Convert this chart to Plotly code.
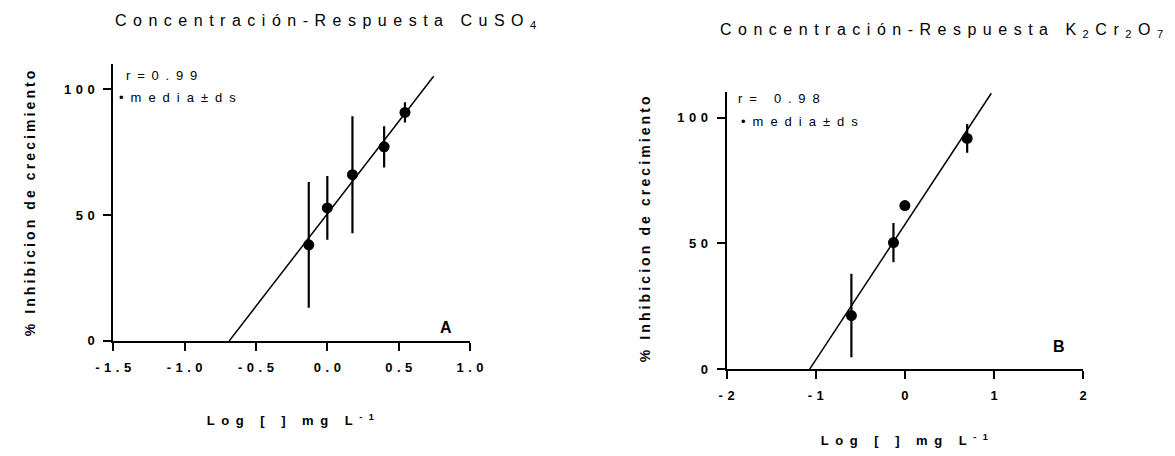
import json
import numpy as np
import plotly.graph_objects as go

# ---------------- data ----------------
logc_a = [-0.13, 0.0, 0.176, 0.398, 0.544]
inh_a = [38.2, 52.9, 66.1, 77.2, 90.9]
sd_a = [25.0, 12.7, 23.3, 8.2, 4.0]
fit_end_a = 0.745
r_a = "r=0.99"

logc_b = [-0.60, -0.128, 0.0, 0.699]
inh_b = [21.3, 50.3, 65.0, 91.7]
sd_b = [16.6, 7.8, 1.0, 5.7]
fit_end_b = 0.97
r_b = "r= 0.98"

xtick_a = [-1.5, -1.0, -0.5, 0.0, 0.5, 1.0]
xtick_a_lbl = ["-1.5", "-1.0", "-0.5", "0.0", "0.5", "1.0"]
xtick_b = [-2, -1, 0, 1, 2]
xtick_b_lbl = ["-2", "-1", "0", "1", "2"]
ytick = [0, 50, 100]
ytick_lbl = ["0", "50", "100"]

title_a = "Concentración-Respuesta CuSO<sub>4</sub>"
title_b = "Concentración-Respuesta K<sub>2</sub>Cr<sub>2</sub>O<sub>7</sub>"
ytitle = "% Inhibicion de crecimiento"
xtitle = "Log [ ] mg L<sup>-1</sup>"
legend_txt = "•media±ds"

# ---------------- figure ----------------
W, H = 1175, 456
FONT = "Liberation Sans, Arial, sans-serif"


def px(x):
    return x / W


def py(y):
    return 1 - y / H


fig = go.Figure()


def add_panel(xs, ys, sds, fit_end, xa, ya):
    slope, icpt = np.polyfit(xs, ys, 1)
    x0 = -icpt / slope
    fx = np.array([x0, fit_end])
    fig.add_trace(go.Scatter(x=fx, y=icpt + slope * fx, mode="lines",
                             line=dict(color="black", width=1.5),
                             xaxis=xa, yaxis=ya, showlegend=False,
                             hoverinfo="skip"))
    fig.add_trace(go.Scatter(x=xs, y=ys, mode="markers",
                             marker=dict(color="black", size=11),
                             error_y=dict(type="data", array=sds, visible=True,
                                          width=0, thickness=2.2, color="black"),
                             xaxis=xa, yaxis=ya, showlegend=False,
                             name="media±ds"))


add_panel(logc_a, inh_a, sd_a, fit_end_a, "x", "y")
add_panel(logc_b, inh_b, sd_b, fit_end_b, "x2", "y2")

axis_common = dict(showgrid=False, zeroline=False, showline=True,
                   linecolor="black", linewidth=2, ticks="outside",
                   ticklen=8, tickwidth=2, tickcolor="black",
                   tickfont=dict(family=FONT, size=13, color="black",
                                 weight="bold"),
                   fixedrange=True)

fig.update_layout(
    width=W, height=H,
    margin=dict(l=0, r=0, t=0, b=0),
    paper_bgcolor="white", plot_bgcolor="white",
    font=dict(family=FONT, color="black", size=13),
    xaxis=dict(domain=[px(104), px(467)], range=[-1.5, 1.0],
               tickvals=xtick_a, ticktext=xtick_a_lbl, anchor="y",
               ticklabelstandoff=5, **axis_common),
    yaxis=dict(domain=[py(347), py(65)], range=[0, 110.2],
               tickvals=ytick, ticktext=ytick_lbl, anchor="x",
               ticklabelstandoff=6, **axis_common),
    xaxis2=dict(domain=[px(728), px(1090.7)], range=[-2, 2],
                tickvals=xtick_b, ticktext=xtick_b_lbl, anchor="y2",
                ticklabelstandoff=5, **axis_common),
    yaxis2=dict(domain=[py(375.7), py(93.3)], range=[0, 110.3],
                tickvals=ytick, ticktext=ytick_lbl, anchor="x2",
                ticklabelstandoff=6, **axis_common),
)

ann = []
ls = []


def add_ann(text, x, y, size, spacing, xanchor="left", bold=False,
            angle=0, align="left"):
    f = dict(family=FONT, size=size, color="black")
    if bold:
        f["weight"] = "bold"
    ann.append(dict(text=text, x=px(x), y=py(y), xref="paper", yref="paper",
                    xanchor=xanchor, yanchor="middle", showarrow=False,
                    textangle=angle, align=align, font=f))
    ls.append(spacing)


add_ann(title_a, 104, 22, 16, 6.5)
add_ann(title_b, 719, 31, 16, 6.5)
add_ann(r_a, 115, 77, 13, 6.8)
add_ann(legend_txt, 108, 99, 13, 7)
add_ann(r_b, 738, 100, 13, 6.8)
add_ann(legend_txt, 741, 124, 13, 7)
add_ann("A", 443, 333, 16, 0, xanchor="center", bold=True, align="center")
add_ann("B", 1066, 353, 16, 0, xanchor="center", bold=True, align="center")
add_ann(ytitle, 20, 207, 14, 3.1, xanchor="center", bold=True, angle=-90,
        align="center")
add_ann(ytitle, 645, 234, 14, 3.1, xanchor="center", bold=True, angle=-90,
        align="center")
add_ann(xtitle, 284, 427, 13, 6.5, xanchor="center", bold=True,
        align="center")
add_ann(xtitle, 908, 448, 13, 6.5, xanchor="center", bold=True,
        align="center")

fig.update_layout(annotations=ann)

post = """
var gd = document.getElementById('{plot_id}');
var LS = %s;
function spaceIt(t, s) {
  if (!t || !s) return;
  t.style.letterSpacing = s + 'px';
  var a = t.getAttribute('text-anchor');
  var dx = 0;
  if (a === 'middle') dx = s / 2; else if (a === 'end') dx = s;
  if (dx) t.setAttribute('dx', dx);
}
gd.querySelectorAll('g.annotation').forEach(function(g){
  var i = +g.getAttribute('data-index');
  spaceIt(g.querySelector('text'), LS[i]);
});
gd.querySelectorAll('g.xtick text, g.x2tick text').forEach(function(t){ spaceIt(t, 4.5); });
gd.querySelectorAll('g.ytick text, g.y2tick text').forEach(function(t){ spaceIt(t, 4.5); });
""" % json.dumps(ls)

fig.write_html("out.html", post_script=post)
